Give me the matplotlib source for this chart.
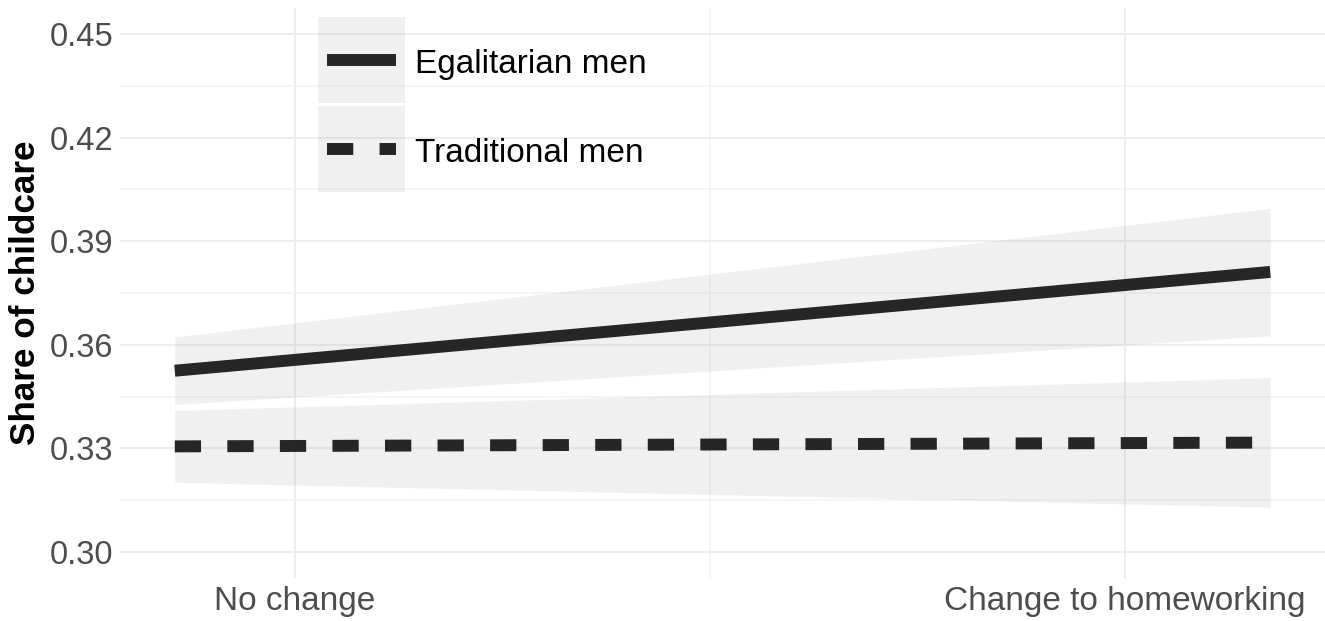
import numpy as np
import matplotlib
matplotlib.use('Agg')
import matplotlib.pyplot as plt
from matplotlib.lines import Line2D
from matplotlib.patches import Rectangle

plt.rcParams['font.family'] = ['Liberation Sans', 'DejaVu Sans']

# data (x: 0 = no change, 1 = change to homeworking)
x = [-0.145, 1.175]
egal_fit = [0.3525, 0.3811]
egal_lo = [0.3427, 0.3626]
egal_hi = [0.3623, 0.3995]
trad_fit = [0.3306, 0.3317]
trad_lo = [0.3202, 0.3130]
trad_hi = [0.3410, 0.3505]

xticks = [0, 1]
xticklabels = ['No change', 'Change to homeworking']
yticks = [0.30, 0.33, 0.36, 0.39, 0.42, 0.45]
labels = ['Egalitarian men', 'Traditional men']

line_col = '#262626'
band_col = '#999999'
band_alpha = 0.14
dash = (0, (2.2, 2.2))

W, H = 1325, 621
fig = plt.figure(figsize=(W/100, H/100), dpi=100)
ax = fig.add_axes([120/W, 43/H, 1205/W, 570/H])

ax.fill_between(x, egal_lo, egal_hi, color=band_col, alpha=band_alpha, lw=0)
ax.fill_between(x, trad_lo, trad_hi, color=band_col, alpha=band_alpha, lw=0)
ax.plot(x, egal_fit, color=line_col, lw=8.6, solid_capstyle='butt')
ax.plot(x, trad_fit, color=line_col, lw=8.6, linestyle=dash,
        dash_capstyle='butt')

ax.set_xlim(-0.211, 1.241)
ax.set_ylim(0.2925, 0.4575)
ax.set_xticks(xticks)
ax.set_xticklabels(xticklabels)
ax.set_xticks([0.5], minor=True)
ax.set_yticks(yticks)
ax.set_yticklabels(['%.2f' % v for v in yticks])
ax.set_yticks([0.315, 0.345, 0.375, 0.405, 0.435], minor=True)

ax.grid(True, which='major', color='#ededed', lw=1.5)
ax.grid(True, which='minor', color='#f3f3f3', lw=1.2)
ax.set_axisbelow(True)
for s in ax.spines.values():
    s.set_visible(False)
ax.tick_params(which='both', length=0)
ax.tick_params(axis='x', labelsize=24, colors='#4d4d4d', pad=6)
ax.tick_params(axis='y', labelsize=23.5, colors='#4d4d4d', pad=5)

ax.set_ylabel('Share of childcare', fontsize=25.3, fontweight='bold',
              labelpad=5)

# legend drawn by hand: grey key boxes with the line on top (ggplot style)
def fx(px):
    return px / W

def fy(py):
    return 1 - py / H

key_tops = [17, 106]
for i, lab in enumerate(labels):
    top = key_tops[i]
    bot = top + 86
    fig.add_artist(Rectangle((fx(318), fy(bot)), fx(405) - fx(318),
                             fy(top) - fy(bot), transform=fig.transFigure,
                             facecolor=band_col, alpha=band_alpha, lw=0))
    mid = (top + bot) / 2
    ls = '-' if i == 0 else dash
    fig.add_artist(Line2D([fx(327), fx(396)], [fy(mid), fy(mid)],
                          transform=fig.transFigure, color=line_col, lw=8.6,
                          linestyle=ls, solid_capstyle='butt',
                          dash_capstyle='butt'))
    fig.text(fx(415), fy(mid + 1), lab, fontsize=24, va='center_baseline',
             ha='left', color='black')

fig.savefig('out.png', dpi=100)
